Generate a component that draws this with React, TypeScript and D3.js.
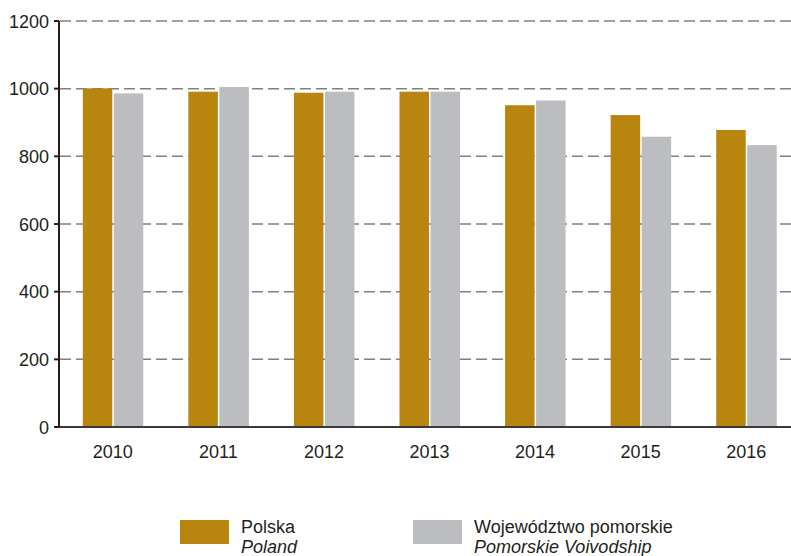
import React from "react";
import * as d3 from "d3";

const years = ["2010", "2011", "2012", "2013", "2014", "2015", "2016"];
const polska = [1001, 991, 988, 991, 951, 922, 878];
const pomorskie = [986, 1005, 991, 991, 965, 858, 833];
const yTicks = [0, 200, 400, 600, 800, 1000, 1200];

const GOLD = "#b8860e";
const GREY = "#bcbdc0";
const font = "'Liberation Sans', Arial, sans-serif";

export default function App() {
  const w = 791;
  const h = 556;
  const x = d3.scaleBand().domain(years).range([60, 799]).paddingInner(0).paddingOuter(0);
  const y = d3.scaleLinear().domain([0, 1200]).range([427, 21]);
  const barW = 29.5;

  return (
    <svg
      width={w}
      height={h}
      style={{ position: "absolute", left: 0, top: 0 }}
      fontFamily={font}
    >
      {yTicks
        .filter((t) => t > 0)
        .map((t) => (
          <line
            key={t}
            x1={60}
            x2={w}
            y1={y(t)}
            y2={y(t)}
            stroke="#808080"
            strokeWidth={1.5}
            strokeDasharray="11 5"
          />
        ))}

      {years.map((yr, i) => {
        const cx = (x(yr) as number) + x.bandwidth() / 2;
        return (
          <g key={yr}>
            <rect
              x={cx - barW - 0.5}
              y={y(polska[i])}
              width={barW}
              height={y(0) - y(polska[i])}
              fill={GOLD}
            />
            <rect
              x={cx + 1}
              y={y(pomorskie[i])}
              width={barW}
              height={y(0) - y(pomorskie[i])}
              fill={GREY}
            />
            <text x={cx} y={458} textAnchor="middle" fontSize={18} fill="#231f20">
              {yr}
            </text>
          </g>
        );
      })}

      <line x1={59} x2={w} y1={y(0)} y2={y(0)} stroke="#3a3a3a" strokeWidth={2} />
      <line x1={59} x2={59} y1={y(1200)} y2={y(0) + 1} stroke="#231f20" strokeWidth={2} />
      {yTicks.map((t) => (
        <g key={t}>
          <line x1={54} x2={59} y1={y(t)} y2={y(t)} stroke="#231f20" strokeWidth={2} />
          <text x={49} y={y(t) + 6.5} textAnchor="end" fontSize={18} fill="#231f20">
            {t}
          </text>
        </g>
      ))}

      <rect x={180} y={520} width={49} height={24} fill={GOLD} />
      <text x={241} y={533} fontSize={18} fill="#231f20">Polska</text>
      <text x={241} y={553} fontSize={18} fontStyle="italic" fill="#231f20">Poland</text>

      <rect x={413} y={520} width={49} height={24} fill={GREY} />
      <text x={474} y={533} fontSize={18} fill="#231f20">Województwo pomorskie</text>
      <text x={474} y={553} fontSize={18} fontStyle="italic" fill="#231f20">Pomorskie Voivodship</text>
    </svg>
  );
}
